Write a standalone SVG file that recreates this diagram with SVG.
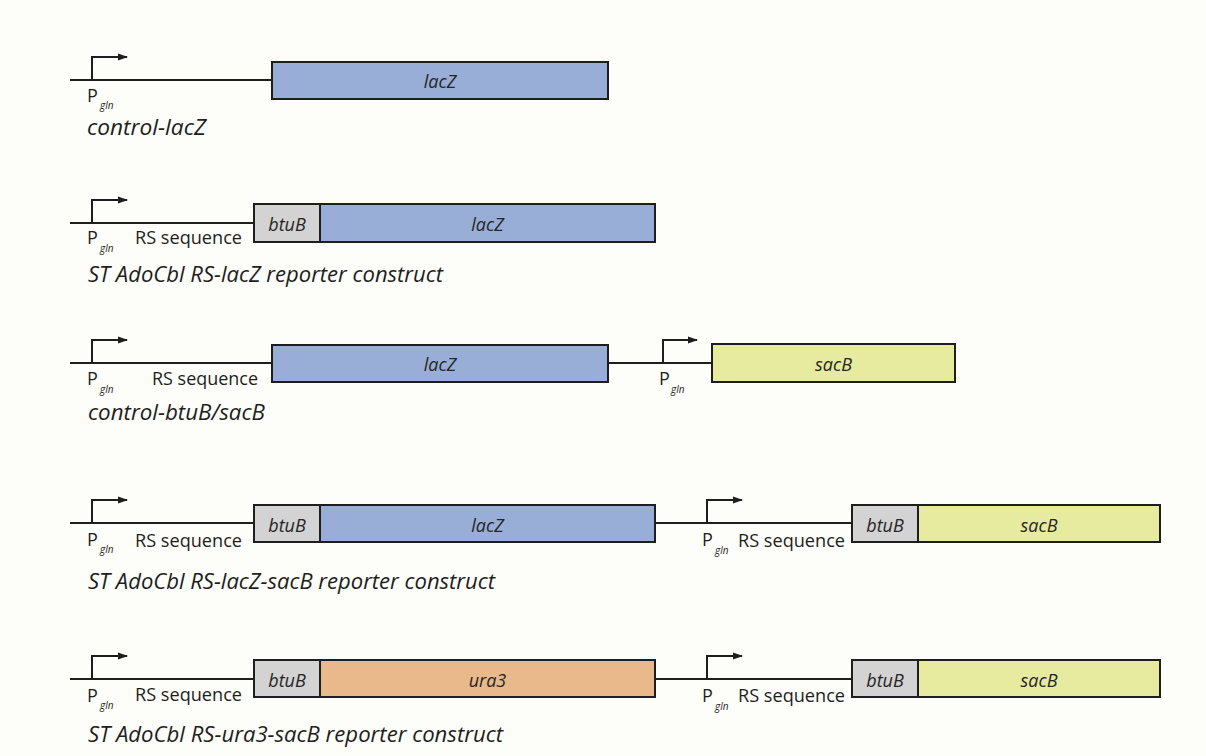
<svg xmlns="http://www.w3.org/2000/svg" width="1206" height="756" viewBox="0 0 1206 756">
<defs>
<style>
.bb{stroke:#1e1e1e;stroke-width:2;fill:none}
.pr{stroke:#1e1e1e;stroke-width:2;fill:none;marker-end:url(#ah)}
.box{stroke:#1e1e1e;stroke-width:2}
.lac{fill:#98aed6}
.btu{fill:#d3d3d3}
.sac{fill:#e6eb9f}
.ura{fill:#e9b98b}
.gt{font-family:"Open Sans","Liberation Sans",sans-serif;font-style:italic;font-size:18px;fill:#262626;text-anchor:middle}
.lb{font-family:"Open Sans","Liberation Sans",sans-serif;font-size:18px;fill:#1e1e1e}
.sub{font-family:"Open Sans","Liberation Sans",sans-serif;font-style:italic;font-size:10px;fill:#1e1e1e}
.cap{font-family:"Open Sans","Liberation Sans",sans-serif;font-style:italic;font-size:21px;fill:#1e1e1e}
</style>
<marker id="ah" markerWidth="10" markerHeight="8" refX="9" refY="4" orient="auto" markerUnits="userSpaceOnUse">
<path d="M0,0.5 L10,4 L0,7.5 Z" fill="#1e1e1e"/>
</marker>
</defs>
<rect x="0" y="0" width="1206" height="756" fill="#fdfdf9"/>

<g id="connectors">
<line class="bb" x1="70" y1="80" x2="272" y2="80"/>
<path class="pr" d="M92,80 V57 H127"/>
<line class="bb" x1="70" y1="223" x2="254" y2="223"/>
<path class="pr" d="M92,223 V200 H127"/>
<line class="bb" x1="70" y1="363" x2="272" y2="363"/>
<path class="pr" d="M92,363 V340 H127"/>
<line class="bb" x1="608" y1="363" x2="712" y2="363"/>
<path class="pr" d="M663,363 V340 H697"/>
<line class="bb" x1="70" y1="523" x2="254" y2="523"/>
<path class="pr" d="M92,523 V500 H127"/>
<line class="bb" x1="655" y1="523" x2="852" y2="523"/>
<path class="pr" d="M707,523 V500 H742"/>
<line class="bb" x1="70" y1="679" x2="254" y2="679"/>
<path class="pr" d="M92,679 V656 H127"/>
<line class="bb" x1="655" y1="679" x2="852" y2="679"/>
<path class="pr" d="M707,679 V656 H742"/>
</g>

<g id="construct1">
<g id="c1-lacZ"><rect class="box lac" x="272" y="62" width="336" height="37"/><text class="gt" x="440" y="88">lacZ</text></g>
<text class="lb" x="87" y="102">P</text><text class="sub" x="100" y="109">gln</text>
<text class="cap" x="87" y="135" textLength="119" lengthAdjust="spacingAndGlyphs">control-lacZ</text>
</g>

<g id="construct2">
<g id="c2-btuB"><rect class="box btu" x="254" y="204" width="66" height="38"/><text class="gt" x="287" y="231">btuB</text></g>
<g id="c2-lacZ"><rect class="box lac" x="320" y="204" width="335" height="38"/><text class="gt" x="487.5" y="231">lacZ</text></g>
<text class="lb" x="87" y="244">P</text><text class="sub" x="100" y="252">gln</text>
<text class="lb" x="135" y="244" textLength="107" lengthAdjust="spacingAndGlyphs">RS sequence</text>
<text class="cap" x="88" y="282" textLength="355" lengthAdjust="spacingAndGlyphs">ST AdoCbl RS-lacZ reporter construct</text>
</g>

<g id="construct3">
<g id="c3-lacZ"><rect class="box lac" x="272" y="345" width="336" height="37"/><text class="gt" x="440" y="371">lacZ</text></g>
<g id="c3-sacB"><rect class="box sac" x="712" y="344" width="243" height="38"/><text class="gt" x="833.5" y="371">sacB</text></g>
<text class="lb" x="87" y="385">P</text><text class="sub" x="100" y="393">gln</text>
<text class="lb" x="152" y="385" textLength="106" lengthAdjust="spacingAndGlyphs">RS sequence</text>
<text class="lb" x="659" y="385">P</text><text class="sub" x="671" y="393">gln</text>
<text class="cap" x="88" y="420" textLength="177" lengthAdjust="spacingAndGlyphs">control-btuB/sacB</text>
</g>

<g id="construct4">
<g id="c4-btuB"><rect class="box btu" x="254" y="505" width="66" height="37"/><text class="gt" x="287" y="532">btuB</text></g>
<g id="c4-lacZ"><rect class="box lac" x="320" y="505" width="335" height="37"/><text class="gt" x="487.5" y="532">lacZ</text></g>
<g id="c4-btuB2"><rect class="box btu" x="852" y="505" width="66" height="37"/><text class="gt" x="885" y="532">btuB</text></g>
<g id="c4-sacB"><rect class="box sac" x="918" y="505" width="242" height="37"/><text class="gt" x="1039" y="532">sacB</text></g>
<text class="lb" x="87" y="546">P</text><text class="sub" x="100" y="553">gln</text>
<text class="lb" x="135" y="547" textLength="107" lengthAdjust="spacingAndGlyphs">RS sequence</text>
<text class="lb" x="702" y="546">P</text><text class="sub" x="715" y="554">gln</text>
<text class="lb" x="738" y="547" textLength="107" lengthAdjust="spacingAndGlyphs">RS sequence</text>
<text class="cap" x="88" y="589" textLength="407" lengthAdjust="spacingAndGlyphs">ST AdoCbl RS-lacZ-sacB reporter construct</text>
</g>

<g id="construct5">
<g id="c5-btuB"><rect class="box btu" x="254" y="660" width="66" height="37"/><text class="gt" x="287" y="687">btuB</text></g>
<g id="c5-ura3"><rect class="box ura" x="320" y="660" width="335" height="37"/><text class="gt" x="487.5" y="687">ura3</text></g>
<g id="c5-btuB2"><rect class="box btu" x="852" y="660" width="66" height="37"/><text class="gt" x="885" y="687">btuB</text></g>
<g id="c5-sacB"><rect class="box sac" x="918" y="660" width="242" height="37"/><text class="gt" x="1039" y="687">sacB</text></g>
<text class="lb" x="87" y="702">P</text><text class="sub" x="100" y="709">gln</text>
<text class="lb" x="135" y="701" textLength="107" lengthAdjust="spacingAndGlyphs">RS sequence</text>
<text class="lb" x="702" y="702">P</text><text class="sub" x="715" y="710">gln</text>
<text class="lb" x="738" y="702" textLength="107" lengthAdjust="spacingAndGlyphs">RS sequence</text>
<text class="cap" x="88" y="742" textLength="415" lengthAdjust="spacingAndGlyphs">ST AdoCbl RS-ura3-sacB reporter construct</text>
</g>
</svg>
